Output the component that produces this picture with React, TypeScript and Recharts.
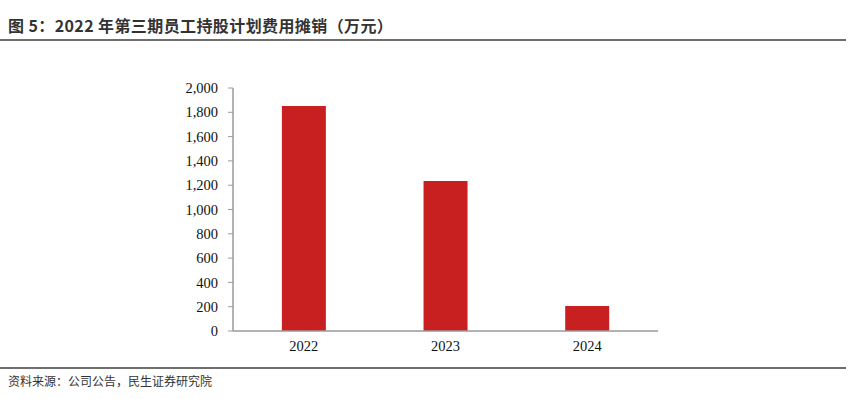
import React from "react";
import { BarChart, Bar, XAxis, YAxis } from "recharts";

const years = ["2022", "2023", "2024"];
const amortization = [1852, 1235, 206];
const yTicks = [0, 200, 400, 600, 800, 1000, 1200, 1400, 1600, 1800, 2000];

const data = years.map((year, i) => ({ year, value: amortization[i] }));

const tickStyle = { fontSize: 14.5, fill: "#111", fontFamily: "'Liberation Serif', 'Times New Roman', serif" };

export default function App() {
  return (
    <div
      style={{
        position: "absolute",
        left: 0,
        top: 0,
        width: 850,
        height: 399,
        background: "#fff",
        fontFamily: "'Noto Sans CJK SC', sans-serif",
      }}
    >
      <div
        style={{
          position: "absolute",
          left: 8,
          top: 13,
          fontSize: 16,
          fontWeight: 700,
          letterSpacing: 0.4,
          color: "#333",
          whiteSpace: "nowrap",
        }}
      >
        图 5：2022 年第三期员工持股计划费用摊销（万元）
      </div>
      <div style={{ position: "absolute", left: 0, top: 39, width: 846, height: 2, background: "#6e6e6e" }} />

      <div style={{ position: "absolute", left: 0, top: 0 }}>
        <BarChart
          width={850}
          height={399}
          data={data}
          margin={{ top: 88, right: 192, bottom: 38, left: 173 }}
          barCategoryGap="34.5%"
        >
          <XAxis
            dataKey="year"
            height={30}
            tick={tickStyle}
            tickLine={false}
            axisLine={{ stroke: "#9a9a9a", strokeWidth: 1.5 }}
            tickMargin={4}
            interval={0}
          />
          <YAxis
            width={60}
            domain={[0, 2000]}
            ticks={yTicks}
            interval={0}
            tick={tickStyle}
            tickFormatter={(v: number) => v.toLocaleString("en-US")}
            tickSize={5}
            tickMargin={10}
            tickLine={{ stroke: "#9a9a9a" }}
            axisLine={{ stroke: "#9a9a9a", strokeWidth: 1.5 }}
          />
          <Bar dataKey="value" fill="#c82021" isAnimationActive={false} />
        </BarChart>
      </div>

      <div style={{ position: "absolute", left: 0, top: 367, width: 846, height: 2, background: "#6e6e6e" }} />
      <div
        style={{
          position: "absolute",
          left: 8,
          top: 372,
          fontSize: 12,
          color: "#333",
          whiteSpace: "nowrap",
        }}
      >
        资料来源：公司公告，民生证券研究院
      </div>
    </div>
  );
}
